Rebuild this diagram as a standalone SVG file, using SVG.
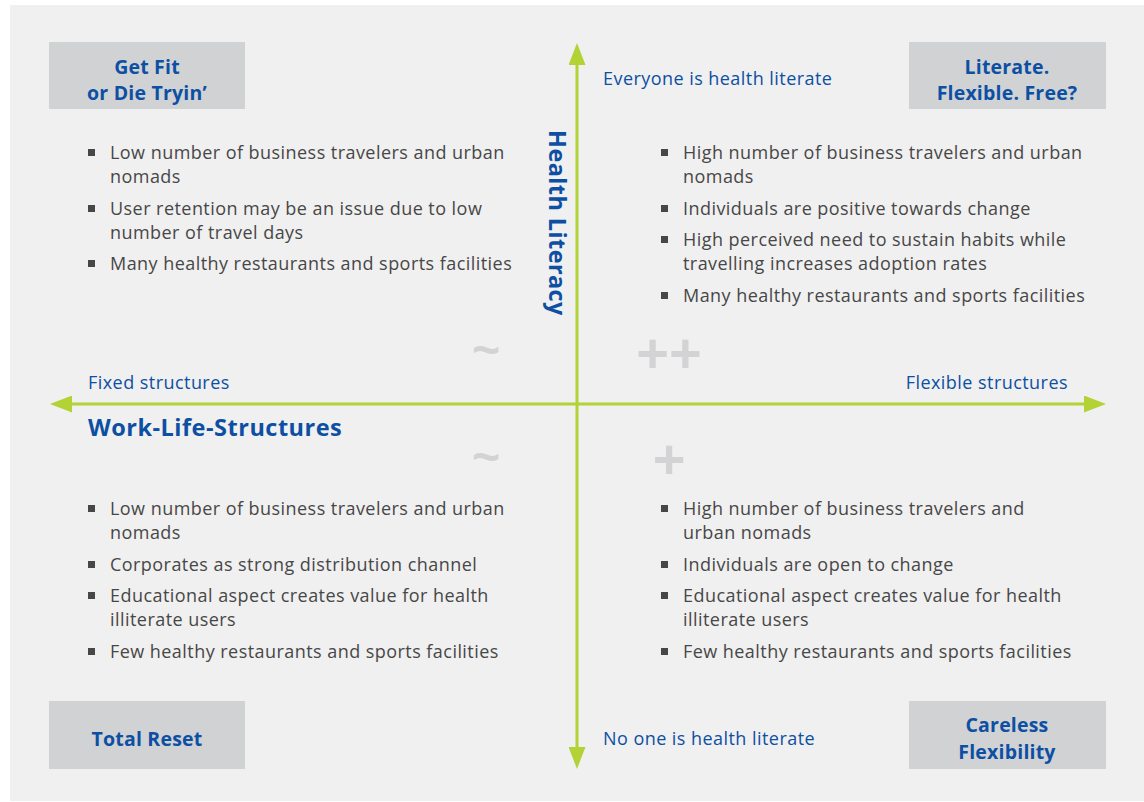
<svg xmlns="http://www.w3.org/2000/svg" width="1144" height="802" viewBox="0 0 1144 802">
<defs>
<style>
.box{fill:#d1d2d4}
.title{font-family:"Open Sans",Lato,sans-serif;font-weight:bold;font-size:19.5px;letter-spacing:0.2px;fill:#0d4fa3;text-anchor:middle}
.lbl{font-family:"Open Sans",Lato,sans-serif;font-size:18px;letter-spacing:0.45px;fill:#0d4fa3}
.bul{font-family:"Open Sans",Lato,sans-serif;font-size:18px;letter-spacing:0.45px;fill:#474747}
.mk{fill:#474747}
.sym{font-family:"Liberation Sans",Arial,sans-serif;font-weight:bold;fill:#d3d3d5;text-anchor:middle}
.axis{stroke:#b2d235;stroke-width:3;fill:none}
</style>
<marker id="ah" viewBox="0 0 22 17" refX="0" refY="8.5" markerWidth="22" markerHeight="17" markerUnits="userSpaceOnUse" orient="auto">
<path d="M0,0 L22,8.5 L0,17 Z" fill="#b2d235"/>
</marker>
</defs>
<rect x="10" y="5" width="1134" height="796" fill="#f0f0f0"/>

<g id="connectors">
<line class="axis" x1="577" y1="404" x2="577" y2="65" marker-end="url(#ah)"/>
<line class="axis" x1="577" y1="404" x2="577" y2="747" marker-end="url(#ah)"/>
<line class="axis" x1="577" y1="404" x2="72" y2="404" marker-end="url(#ah)"/>
<line class="axis" x1="577" y1="404" x2="1084" y2="404" marker-end="url(#ah)"/>
</g>

<g id="axis-labels">
<text class="lbl" x="603" y="85">Everyone is health literate</text>
<text class="lbl" x="603" y="745">No one is health literate</text>
<text class="lbl" x="88" y="389">Fixed structures</text>
<text class="lbl" x="1068" y="389" text-anchor="end">Flexible structures</text>
<text x="88" y="436" style="font-family:'Open Sans',Lato,sans-serif;font-weight:bold;font-size:23.5px;letter-spacing:0.5px;fill:#0d4fa3">Work-Life-Structures</text>
<text transform="translate(549,130) rotate(90)" style="font-family:'Open Sans',Lato,sans-serif;font-weight:bold;font-size:23.5px;letter-spacing:0.4px;fill:#0d4fa3">Health Literacy</text>
</g>

<g id="symbols">
<text class="sym" x="486" y="366" font-size="48">~</text>
<text class="sym" x="669" y="372" font-size="56">++</text>
<text class="sym" x="486" y="473" font-size="48">~</text>
<text class="sym" x="669" y="478" font-size="56">+</text>
</g>

<g id="node-tl">
<rect class="box" x="49" y="42" width="196" height="67"/>
<text class="title" x="147" y="74">Get Fit</text>
<text class="title" x="147" y="100">or Die Tryin’</text>
<rect class="mk" x="88" y="149" width="7" height="7"/>
<text class="bul" x="110" y="159">Low number of business travelers and urban</text>
<text class="bul" x="110" y="183">nomads</text>
<rect class="mk" x="88" y="205" width="7" height="7"/>
<text class="bul" x="110" y="215">User retention may be an issue due to low</text>
<text class="bul" x="110" y="239">number of travel days</text>
<rect class="mk" x="88" y="260" width="7" height="7"/>
<text class="bul" x="110" y="270">Many healthy restaurants and sports facilities</text>
</g>

<g id="node-tr">
<rect class="box" x="909" y="42" width="197" height="67"/>
<text class="title" x="1007" y="74">Literate.</text>
<text class="title" x="1007" y="100">Flexible. Free?</text>
<rect class="mk" x="661" y="149" width="7" height="7"/>
<text class="bul" x="683" y="159">High number of business travelers and urban</text>
<text class="bul" x="683" y="183">nomads</text>
<rect class="mk" x="661" y="205" width="7" height="7"/>
<text class="bul" x="683" y="215">Individuals are positive towards change</text>
<rect class="mk" x="661" y="236" width="7" height="7"/>
<text class="bul" x="683" y="246">High perceived need to sustain habits while</text>
<text class="bul" x="683" y="270">travelling increases adoption rates</text>
<rect class="mk" x="661" y="292" width="7" height="7"/>
<text class="bul" x="683" y="302">Many healthy restaurants and sports facilities</text>
</g>

<g id="node-bl">
<rect class="box" x="49" y="701" width="196" height="68"/>
<text class="title" x="147" y="746">Total Reset</text>
<rect class="mk" x="88" y="505" width="7" height="7"/>
<text class="bul" x="110" y="515">Low number of business travelers and urban</text>
<text class="bul" x="110" y="539">nomads</text>
<rect class="mk" x="88" y="561" width="7" height="7"/>
<text class="bul" x="110" y="571">Corporates as strong distribution channel</text>
<rect class="mk" x="88" y="592" width="7" height="7"/>
<text class="bul" x="110" y="602">Educational aspect creates value for health</text>
<text class="bul" x="110" y="626">illiterate users</text>
<rect class="mk" x="88" y="648" width="7" height="7"/>
<text class="bul" x="110" y="658">Few healthy restaurants and sports facilities</text>
</g>

<g id="node-br">
<rect class="box" x="909" y="701" width="197" height="68"/>
<text class="title" x="1007" y="732">Careless</text>
<text class="title" x="1007" y="759">Flexibility</text>
<rect class="mk" x="661" y="505" width="7" height="7"/>
<text class="bul" x="683" y="515">High number of business travelers and</text>
<text class="bul" x="683" y="539">urban nomads</text>
<rect class="mk" x="661" y="561" width="7" height="7"/>
<text class="bul" x="683" y="571">Individuals are open to change</text>
<rect class="mk" x="661" y="592" width="7" height="7"/>
<text class="bul" x="683" y="602">Educational aspect creates value for health</text>
<text class="bul" x="683" y="626">illiterate users</text>
<rect class="mk" x="661" y="648" width="7" height="7"/>
<text class="bul" x="683" y="658">Few healthy restaurants and sports facilities</text>
</g>
</svg>
